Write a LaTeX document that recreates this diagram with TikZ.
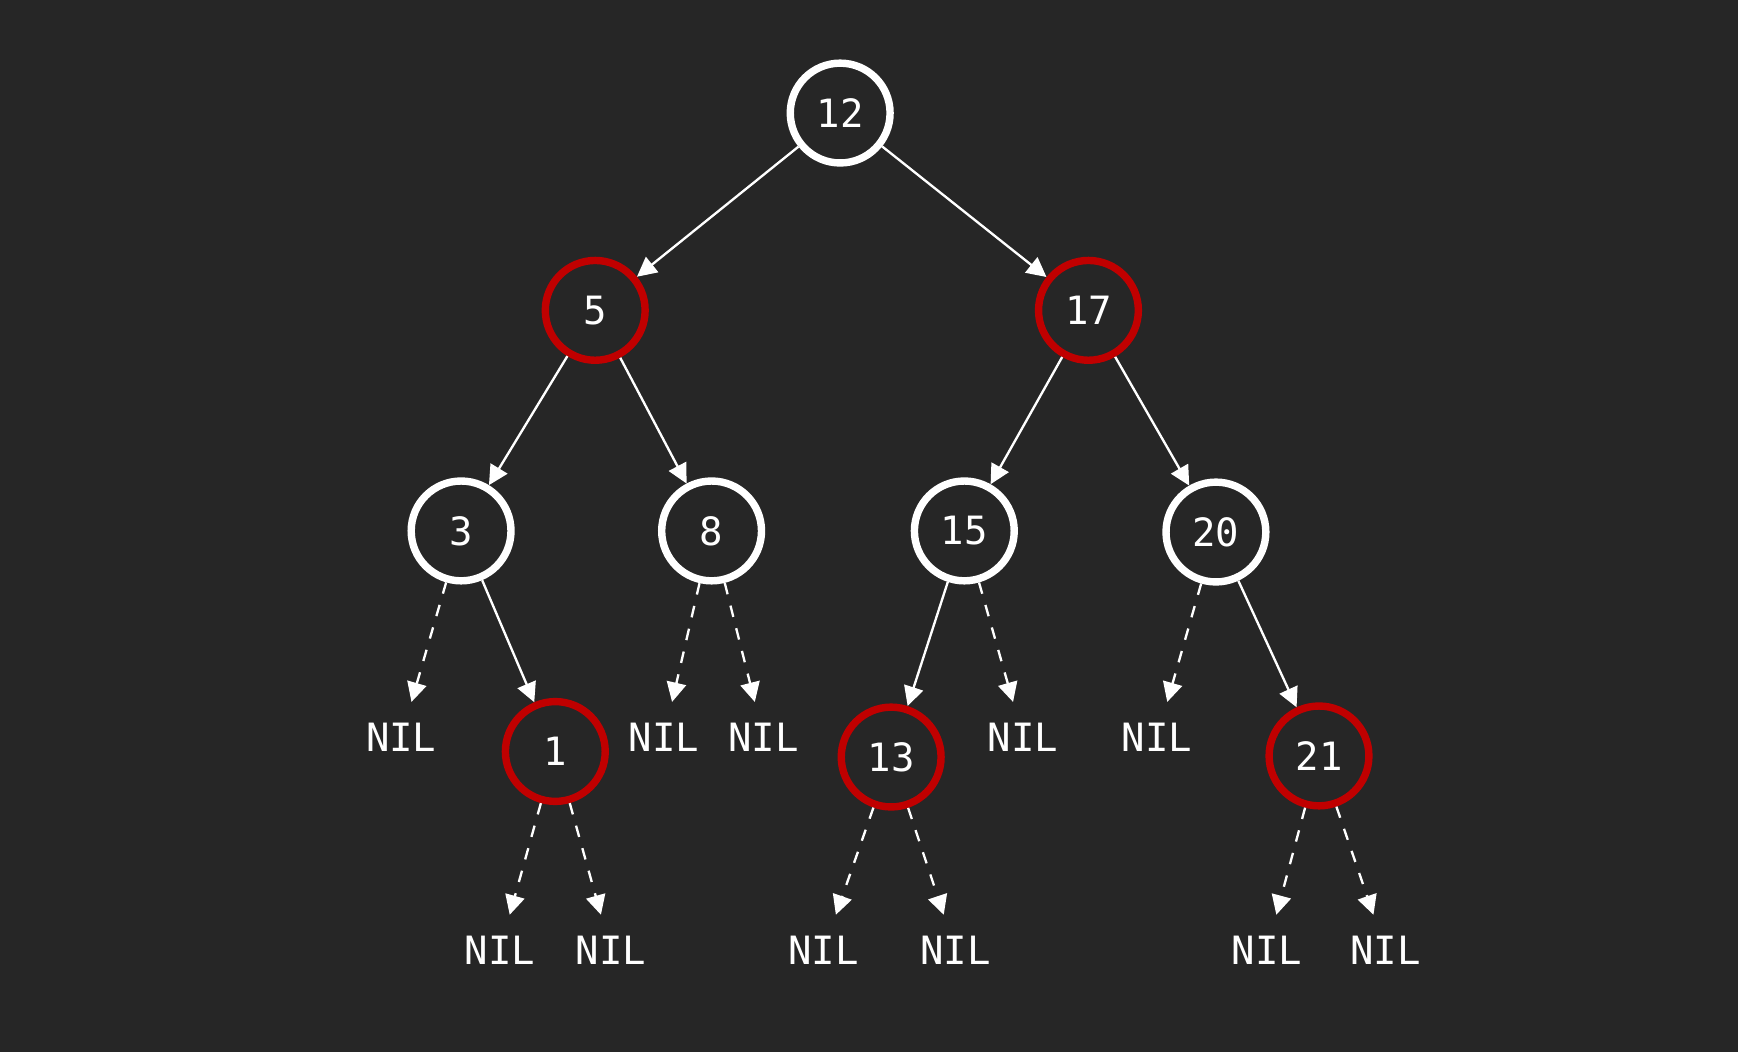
\documentclass[tikz,border=0pt]{standalone}
\usepackage{fontspec}
\setmonofont{DejaVu Sans Mono}
\usepackage{tikz}
\definecolor{bg}{HTML}{262626}
\definecolor{rbred}{HTML}{C00000}
\usetikzlibrary{arrows.meta, positioning}

\begin{document}
\begin{tikzpicture}
[x=0.01cm, y=-0.01cm,
 blk/.style={circle, draw=white, line width=1.9pt, minimum size=0.9cm, inner sep=0pt, text=white, font=\ttfamily},
 rd/.style={blk, draw=rbred},
 nil/.style={text=white, font=\ttfamily, minimum height=0.62cm, inner sep=0pt},
 ->/.style={draw=white, line width=0.6pt, arrows={-Triangle[length=5pt, width=5pt]}},
 -->/.style={->, dashed}]
\fill[bg] (0,0) rectangle (1568,949);
\node[blk] (n12) at (758,102) {12};
\node[rd] (n5) at (537,280) {5};
\node[rd] (n17) at (982,280) {17};
\node[blk] (n3) at (416,479) {3};
\node[blk] (n8) at (642,479) {8};
\node[blk] (n15) at (870,479) {15};
\node[blk] (n20) at (1097,480) {20};
\node[rd] (n1) at (501,678) {1};
\node[rd] (n13) at (804,683) {13};
\node[rd] (n21) at (1190,682) {21};
% NIL leaves
\node[nil] (l1) at (362,665) {NIL};
\node[nil] (l2) at (599,665) {NIL};
\node[nil] (l3) at (689,665) {NIL};
\node[nil] (l4) at (923,665) {NIL};
\node[nil] (l5) at (1044,665) {NIL};
\node[nil] (l6) at (451,857) {NIL};
\node[nil] (l7) at (551,857) {NIL};
\node[nil] (l8) at (743,857) {NIL};
\node[nil] (l9) at (862,857) {NIL};
\node[nil] (l10) at (1143,857) {NIL};
\node[nil] (l11) at (1250,857) {NIL};
\draw[->] (n12) -- (n5);
\draw[->] (n12) -- (n17);
\draw[->] (n5) -- (n3);
\draw[->] (n5) -- (n8);
\draw[->] (n17) -- (n15);
\draw[->] (n17) -- (n20);
\draw[->] (n3) -- (n1);
\draw[->] (n15) -- (n13);
\draw[->] (n20) -- (n21);
\draw[-->] (n3) -- (l1);
\draw[-->] (n8) -- (l2);
\draw[-->] (n8) -- (l3);
\draw[-->] (n15) -- (l4);
\draw[-->] (n20) -- (l5);
\draw[-->] (n1) -- (l6);
\draw[-->] (n1) -- (l7);
\draw[-->] (n13) -- (l8);
\draw[-->] (n13) -- (l9);
\draw[-->] (n21) -- (l10);
\draw[-->] (n21) -- (l11);
\end{tikzpicture}
\end{document}
